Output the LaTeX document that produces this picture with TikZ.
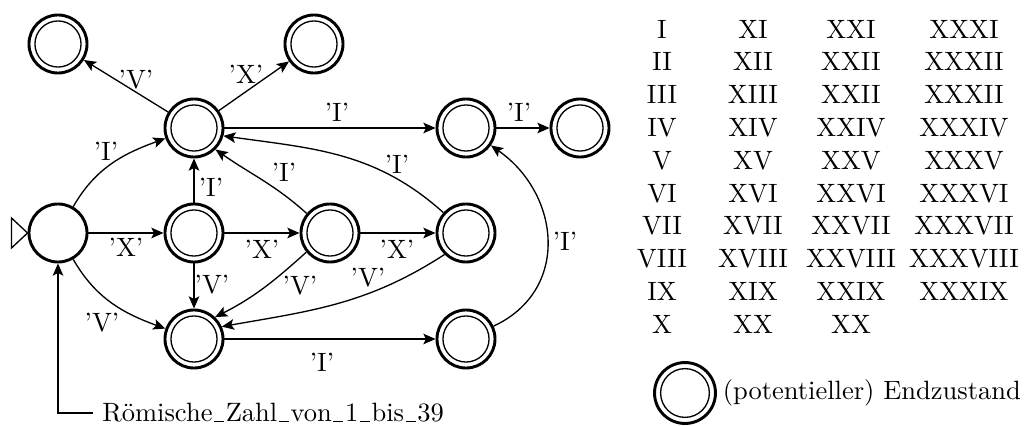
\documentclass[tikz,border=0pt]{standalone}
\usetikzlibrary{arrows.meta}
\newcommand\lowbar{\leavevmode\kern.06em\vbox{\hrule width.38em}\kern.06em}
\begin{document}
\begin{tikzpicture}[x=0.3774pt, y=-0.3774pt,
  state/.style={circle, draw, line width=1.1pt, minimum size=21.9pt, inner sep=0pt},
  accepting/.style={path picture={\draw[line width=0.5pt] (path picture bounding box.center) circle (8.7pt);}},
  bigaccepting/.style={minimum size=23pt, path picture={\draw[line width=0.5pt] (path picture bounding box.center) circle (9.2pt);}},
  trans/.style={line width=0.5pt, -{Stealth[length=4.6pt, width=4pt, inset=1pt]}},
  lbl/.style={inner sep=0pt},
  num/.style={anchor=base, inner sep=0pt}]
\useasboundingbox (0,0) rectangle (1027,426);

% states
\node[state] (q0) at (58,233) {};
\node[state, accepting] (A) at (194,233) {};
\node[state, accepting] (B) at (330,233) {};
\node[state, accepting] (C) at (466,233) {};
\node[state, accepting] (T) at (194,128) {};
\node[state, accepting] (TR1) at (466,128) {};
\node[state, accepting] (TR2) at (580,128) {};
\node[state, accepting] (UL) at (58,44) {};
\node[state, accepting] (UR) at (314,44) {};
\node[state, accepting] (D) at (194,339) {};
\node[state, accepting] (E) at (466,339) {};

% initial marker
\draw[line width=0.5pt] (q0.west) -- ++(-16,-15) -- ++(0,30) -- cycle;

% transitions
\draw[trans] (q0) to[out=60, in=200] (T) node[lbl] at (106,151) {'I'};
\draw[trans] (q0) -- (A) node[lbl] at (126,247) {'X'};
\draw[trans] (q0) to[out=-60, in=160] (D) node[lbl] at (102,323) {'V'};
\draw[trans] (A) -- (T) node[lbl] at (211,187) {'I'};
\draw[trans] (A) -- (B) node[lbl] at (262,249) {'X'};
\draw[trans] (A) -- (D) node[lbl] at (212,285) {'V'};
\draw[trans] (B.140) to[out=138, in=-35] (T.-45) node[lbl] at (284,172) {'I'};
\draw[trans] (B) -- (C) node[lbl] at (397,249) {'X'};
\draw[trans] (B.219) to[out=222, in=27] (D.46) node[lbl] at (300,286) {'V'};
\draw[trans] (C.138) to[out=138, in=-8] (T.-15) node[lbl] at (397,164) {'I'};
\draw[trans] (C.225) to[out=213, in=10] (D.24) node[lbl] at (368,278) {'V'};
\draw[trans] (T) -- (UL) node[lbl] at (136,80) {'V'};
\draw[trans] (T) -- (UR) node[lbl] at (246,74) {'X'};
\draw[trans] (T) -- (TR1) node[lbl] at (337,112) {'I'};
\draw[trans] (TR1) -- (TR2) node[lbl] at (519,112) {'I'};
\draw[trans] (D) -- (E) node[lbl] at (322,362) {'I'};
\draw[trans] (E) to[out=25, in=-35, looseness=1.2] (TR1) node[lbl] at (565,241) {'I'};

% start label
\node[anchor=west] (start) at (93,413) {R\"omische\lowbar Zahl\lowbar von\lowbar 1\lowbar bis\lowbar 39};
\draw[trans] (start.west) -| (q0.south);

% table of numerals
\foreach \r/\a/\b/\c/\d in {1/I/XI/XXI/XXXI, 2/II/XII/XXII/XXXII, 3/III/XIII/XXII/XXXII,
  4/IV/XIV/XXIV/XXXIV, 5/V/XV/XXV/XXXV, 6/VI/XVI/XXVI/XXXVI, 7/VII/XVII/XXVII/XXXVII,
  8/VIII/XVIII/XXVIII/XXXVIII, 9/IX/XIX/XXIX/XXXIX} {
  \node[num] (n\r a) at (662,{38+32.8*(\r-1)}) {\a};
  \node[num] (n\r b) at (753,{38+32.8*(\r-1)}) {\b};
  \node[num] (n\r c) at (851,{38+32.8*(\r-1)}) {\c};
  \node[num] (n\r d) at (964,{38+32.8*(\r-1)}) {\d};
}
\node[num] (n10a) at (662,333.2) {X};
\node[num] (n10b) at (753,333.2) {XX};
\node[num] (n10c) at (851,333.2) {XX};

% legend
\node[state, bigaccepting] (leg) at (685,393) {};
\node[anchor=west, inner sep=2pt] (legtxt) at (leg.east) {(potentieller) Endzustand};
\end{tikzpicture}
\end{document}
